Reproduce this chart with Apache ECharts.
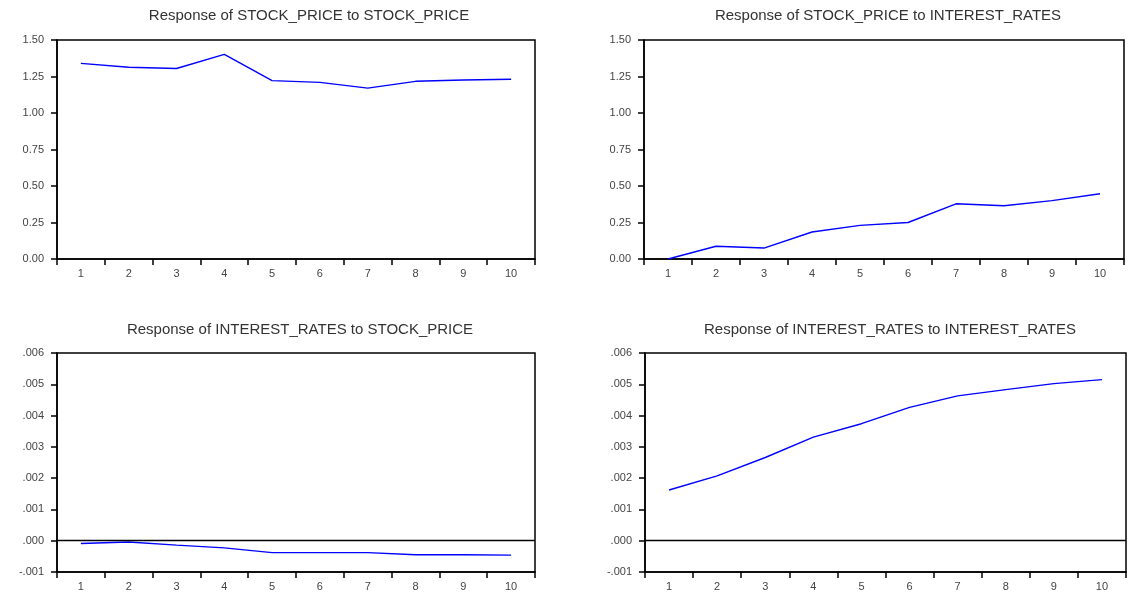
<!DOCTYPE html>
<html>
<head>
<meta charset="utf-8">
<script src="https://cdn.jsdelivr.net/npm/echarts@6/dist/echarts.min.js"></script>
<style>
  html, body { margin: 0; padding: 0; background: #fff; }
  #chart { width: 1133px; height: 594px; }
</style>
</head>
<body>
<div id="chart"></div>
<script>
// Impulse response horizon (periods)
const periods = ['1', '2', '3', '4', '5', '6', '7', '8', '9', '10'];

// Panel titles
const titles = [
  'Response of STOCK_PRICE to STOCK_PRICE',
  'Response of STOCK_PRICE to INTEREST_RATES',
  'Response of INTEREST_RATES to STOCK_PRICE',
  'Response of INTEREST_RATES to INTEREST_RATES'
];

// Responses
const stockToStock = [1.340, 1.313, 1.305, 1.402, 1.222, 1.210, 1.170, 1.217, 1.226, 1.231];
const stockToRates = [0.000, 0.087, 0.075, 0.185, 0.230, 0.250, 0.378, 0.365, 0.400, 0.447];
const ratesToStock = [-0.00009, -0.00004, -0.00014, -0.00023, -0.00038, -0.00038, -0.00038, -0.00045, -0.00045, -0.00046];
const ratesToRates = [0.00162, 0.00207, 0.00266, 0.00331, 0.00374, 0.00426, 0.00463, 0.00483, 0.00502, 0.00515];

// Y scales: [min, max, step] for the stock panels and the rate panels
const stockScale = [0, 1.5, 0.25];
const rateScale = [-0.001, 0.006, 0.001];

const FONT = 'Liberation Sans, Arial, sans-serif';

const grids = [
  { left: 57,  top: 40,  width: 478, height: 219 },
  { left: 644, top: 40,  width: 480, height: 219 },
  { left: 57,  top: 353, width: 478, height: 219 },
  { left: 645, top: 353, width: 481, height: 219 }
];
const titlePos = [
  { x: 304, y: 3 },
  { x: 883, y: 3 },
  { x: 295, y: 317 },
  { x: 885, y: 317 }
];

const fmtStock = v => v.toFixed(2);
const fmtRate = v => {
  const s = (Math.round(v * 1e6) / 1e6).toFixed(3);
  return s.replace(/^(-?)0\./, '$1.');
};

const panels = [
  { data: stockToStock, scale: stockScale, fmt: fmtStock, zero: false },
  { data: stockToRates, scale: stockScale, fmt: fmtStock, zero: false },
  { data: ratesToStock, scale: rateScale, fmt: fmtRate, zero: true },
  { data: ratesToRates, scale: rateScale, fmt: fmtRate, zero: true }
];

const option = {
  backgroundColor: '#ffffff',
  animation: false,
  title: titles.map((t, i) => ({
    text: t,
    left: titlePos[i].x,
    top: titlePos[i].y,
    textAlign: 'center',
    textStyle: { fontFamily: FONT, fontSize: 15, fontWeight: 'normal', color: '#333' }
  })),
  grid: grids.map(g => Object.assign({
    show: true, borderColor: '#000', borderWidth: 1.5, backgroundColor: 'transparent'
  }, g)),
  xAxis: panels.map((p, i) => ({
    type: 'category',
    gridIndex: i,
    data: periods,
    boundaryGap: true,
    axisLine: { show: true, onZero: false, lineStyle: { color: '#000', width: 1.5 } },
    axisTick: { show: true, length: 6, lineStyle: { color: '#000', width: 1.5 } },
    axisLabel: { fontFamily: FONT, fontSize: 11, color: '#444', margin: 9 },
    splitLine: { show: false }
  })),
  yAxis: panels.map((p, i) => ({
    type: 'value',
    gridIndex: i,
    min: p.scale[0],
    max: p.scale[1],
    interval: p.scale[2],
    axisLine: { show: true, lineStyle: { color: '#000', width: 1.5 } },
    axisTick: { show: true, length: 6, lineStyle: { color: '#000', width: 1.5 } },
    axisLabel: { fontFamily: FONT, fontSize: 11, color: '#444', margin: 13, formatter: p.fmt },
    splitLine: { show: false }
  })),
  series: panels.map((p, i) => ({
    type: 'line',
    xAxisIndex: i,
    yAxisIndex: i,
    data: p.data,
    showSymbol: false,
    symbol: 'none',
    lineStyle: { color: '#0000ff', width: 1.4 },
    markLine: p.zero ? {
      silent: true,
      symbol: ['none', 'none'],
      label: { show: false },
      lineStyle: { color: '#000', width: 1.3, type: 'solid' },
      data: [{ yAxis: 0 }]
    } : undefined
  }))
};

const chart = echarts.init(document.getElementById('chart'), null, { renderer: 'canvas' });
chart.setOption(option);
</script>
</body>
</html>
